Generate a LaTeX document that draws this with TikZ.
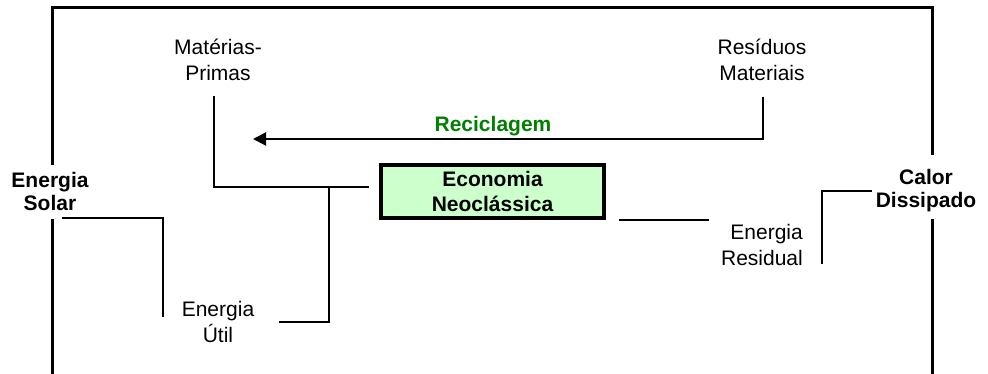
\documentclass[tikz,border=0pt]{standalone}
\usepackage{fontspec}
\setmainfont{Liberation Sans}
\usetikzlibrary{arrows.meta}
\tikzset{
  label text/.style = {align=center, inner sep=0pt, font=\fontsize{21}{25.5}\selectfont},
  title text/.style = {label text, font=\fontsize{21}{23}\selectfont\bfseries},
  thin link/.style  = {line width=1.3pt},
  frame line/.style = {line width=3pt},
}
\definecolor{econgreen}{RGB}{204,255,204}
\definecolor{recgreen}{RGB}{0,128,0}
\begin{document}
\begin{tikzpicture}[x=1pt, y=-1pt]
        \useasboundingbox (0,0) rectangle (988,374);
        \clip (0,0) rectangle (988,374);
        % nodes
        \node[label text] (materias) at (218, 60)  {Matérias-\\Primas};
        \node[label text] (residuos) at (762, 60)  {Resíduos\\Materiais};
        \node[title text, text=recgreen] (reciclagem) at (493, 126) {Reciclagem};
        \node[title text, font=\fontsize{21}{25.5}\selectfont\bfseries, draw, line width=4pt, fill=econgreen,
              minimum width=223pt, minimum height=53pt] (economia) at (492.5, 191.5) {Economia\\Neoclássica};
        \node[title text] (solar)    at (50, 191)  {Energia\\Solar};
        \node[label text] (util)     at (218, 322) {Energia\\Útil};
        \node[label text, align=right, anchor=east] (residual) at (803, 245) {Energia\\Residual};
        \node[title text] (calor)    at (926, 191) {Calor\\Dissipado};
        % bends
        \coordinate (mp-top)    at (214, 96);
        \coordinate (mp-bend)   at (214, 187);
        \coordinate (mp-end)    at (369, 187);
        \coordinate (ut-top)    at (329, 187);
        \coordinate (ut-bend)   at (329, 322);
        \coordinate (ut-end)    at (279, 322);
        \coordinate (rs-top)    at (763, 97);
        \coordinate (rs-bend)   at (763, 139);
        \coordinate (rs-tip)    at (253, 139);
        \coordinate (so-start)  at (62, 218);
        \coordinate (so-bend)   at (163, 218);
        \coordinate (so-end)    at (163, 317);
        \coordinate (er-start)  at (619, 220);
        \coordinate (er-end)    at (709, 220);
        \coordinate (cd-low)    at (822, 264);
        \coordinate (cd-bend)   at (822, 191);
        \coordinate (cd-end)    at (872, 191);
        % outer frame
        \draw[frame line] (52,165) -- (52,7.5) -- (932,7.5) -- (932,155);
        \draw[frame line] (52,219) -- (52,380);
        \draw[frame line] (932,219) -- (932,380);
        % links
        \draw[thin link] (mp-top) -- (mp-bend) -- (mp-end);
        \draw[thin link] (ut-top) -- (ut-bend) -- (ut-end);
        \draw[line width=2pt, -{Triangle[length=13pt, width=13pt]}] (rs-top) -- (rs-bend) -- (rs-tip);
        \draw[thin link] (so-start) -- (so-bend) -- (so-end);
        \draw[thin link] (er-start) -- (er-end);
        \draw[thin link] (cd-low) -- (cd-bend) -- (cd-end);
\end{tikzpicture}
\end{document}
